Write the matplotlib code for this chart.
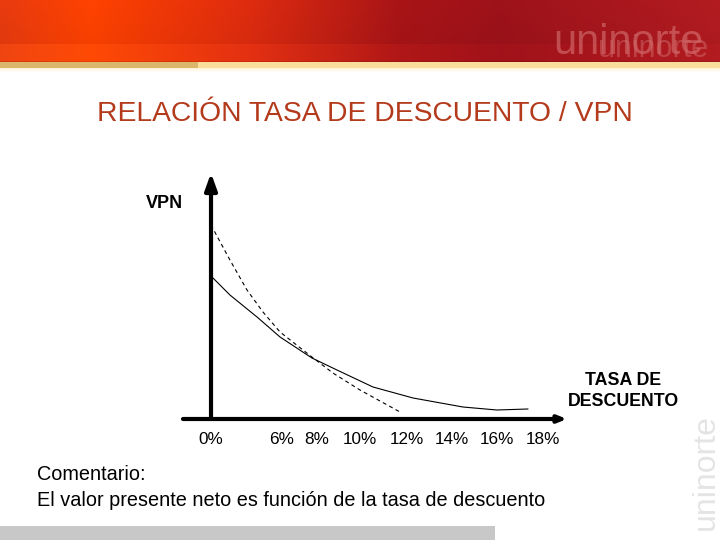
import numpy as np
import matplotlib
matplotlib.use("Agg")
import matplotlib.pyplot as plt
from matplotlib.patches import Rectangle

plt.rcParams['font.family'] = ['Liberation Sans', 'DejaVu Sans']

# ---------------- data ----------------
title = "RELACIÓN TASA DE DESCUENTO / VPN"
y_label = "VPN"
x_label = "TASA DE\nDESCUENTO"
comment_head = "Comentario:"
comment_body = "El valor presente neto es función de la tasa de descuento"

# solid curve (rate, VPN)
solid_rate = [0.0, 1.02, 2.48, 3.72, 5.44, 6.79, 8.73, 10.89, 13.58, 15.41, 17.08]
solid_vpn = [71.5, 62.0, 51.0, 41.0, 30.5, 24.5, 16.0, 10.5, 6.0, 4.5, 5.0]
# dashed curve (rate, VPN)
dashed_rate = [0.0, 1.02, 1.94, 2.80, 3.72, 5.44, 6.57, 8.03, 10.29]
dashed_vpn = [97.0, 79.5, 64.5, 53.5, 43.5, 31.0, 23.0, 14.5, 3.0]

tick_pos = [0.0, 3.83, 5.71, 8.03, 10.56, 12.99, 15.41, 17.89]
tick_labels = ["0%", "6%", "8%", "10%", "12%", "14%", "16%", "18%"]

# ---------------- figure ----------------
fig = plt.figure(figsize=(7.2, 5.4), dpi=100)
bg = fig.add_axes([0, 0, 1, 1])
bg.set_xlim(0, 720)
bg.set_ylim(540, 0)
bg.axis('off')

# header gradient
W, H = 720, 72
xs = np.arange(W)
stops = [0, 90, 250, 400, 500, 720]
top_cols = np.array([(0.91, 0.23, 0.06), (1.00, 0.26, 0.00), (0.87, 0.17, 0.06),
                     (0.66, 0.08, 0.09), (0.62, 0.07, 0.10), (0.70, 0.11, 0.13)])
low_cols = np.array([(0.94, 0.27, 0.07), (1.00, 0.29, 0.02), (0.89, 0.19, 0.07),
                     (0.69, 0.09, 0.09), (0.63, 0.07, 0.10), (0.70, 0.11, 0.13)])
top_row = np.stack([np.interp(xs, stops, top_cols[:, c]) for c in range(3)], axis=1)
low_row = np.stack([np.interp(xs, stops, low_cols[:, c]) for c in range(3)], axis=1)
img = np.ones((H, W, 3))
for r in range(H):
    if r < 42:
        img[r] = top_row * (1.0 - 0.03 * (r / 42.0))
    elif r < 44:
        img[r] = top_row * 0.96
    elif r < 61:
        img[r] = low_row
    elif r < 62:
        img[r] = low_row * 0.88
    elif r < 68:
        img[r, :198] = (0.86, 0.72, 0.43)
        img[r, 198:] = (0.98, 0.87, 0.61)
    else:
        t = (r - 68) / 4.0
        img[r] = np.array((1.0, 0.96, 0.86)) * (1 - t) + np.array((1, 1, 1)) * t
bg.imshow(img, extent=(0, 720, 72, 0), aspect='auto', interpolation='bilinear', zorder=0)
bg.set_xlim(0, 720)
bg.set_ylim(540, 0)

# header watermark
bg.text(553, 54, "uninorte", fontsize=30, color=(0.88, 0.52, 0.52), alpha=0.5,
        ha='left', va='baseline', zorder=2)
bg.text(598, 57, "uninorte", fontsize=22, color=(0.82, 0.42, 0.42), alpha=0.5,
        ha='left', va='baseline', zorder=2)

# side watermark
bg.text(706, 472, "uninorte", fontsize=23, color='#e4e4e4', rotation=90,
        ha='center', va='center', zorder=1)

# bottom gray bar
bg.add_patch(Rectangle((0, 526), 495, 14, color='#c8c8c8', lw=0, zorder=1))

# title
bg.text(365, 114, title, fontsize=20.3, color='#b43a1c', ha='center', va='center')

# labels
bg.text(164, 203, y_label, fontsize=13, fontweight='bold', ha='center', va='center')
bg.text(623, 391, x_label, fontsize=12.8, fontweight='bold', ha='center', va='center',
        linespacing=1.25)
bg.text(37, 475, comment_head, fontsize=14.3, ha='left', va='center')
bg.text(37, 500, comment_body, fontsize=14.3, ha='left', va='center')

# ---------------- chart ----------------
ax = fig.add_axes([183 / 720, 121 / 540, 384 / 720, 250 / 540])
ax.patch.set_alpha(0)
ax.set_xlim(-1.51, 19.19)
ax.set_ylim(0, 125)
for s in ax.spines.values():
    s.set_visible(False)
ax.set_yticks([])
ax.set_xticks(tick_pos)
ax.set_xticklabels(tick_labels, fontsize=12.3)
ax.tick_params(axis='x', length=0, pad=9)

ax.plot(solid_rate, solid_vpn, color='black', lw=0.8, solid_joinstyle='round')
ax.plot(dashed_rate, dashed_vpn, color='black', lw=0.8, linestyle=(0, (3.5, 3)))

ax.annotate('', xy=(0, 123), xytext=(0, 0), annotation_clip=False,
            arrowprops=dict(arrowstyle='-|>,head_length=0.5,head_width=0.18',
                            lw=3, color='black', shrinkA=0, shrinkB=0,
                            mutation_scale=20))
ax.annotate('', xy=(19.19, 0), xytext=(-1.51, 0), annotation_clip=False,
            arrowprops=dict(arrowstyle='-|>,head_length=0.25,head_width=0.1',
                            lw=3, color='black', shrinkA=0, shrinkB=0,
                            mutation_scale=20))

fig.savefig("out.png", dpi=100)
